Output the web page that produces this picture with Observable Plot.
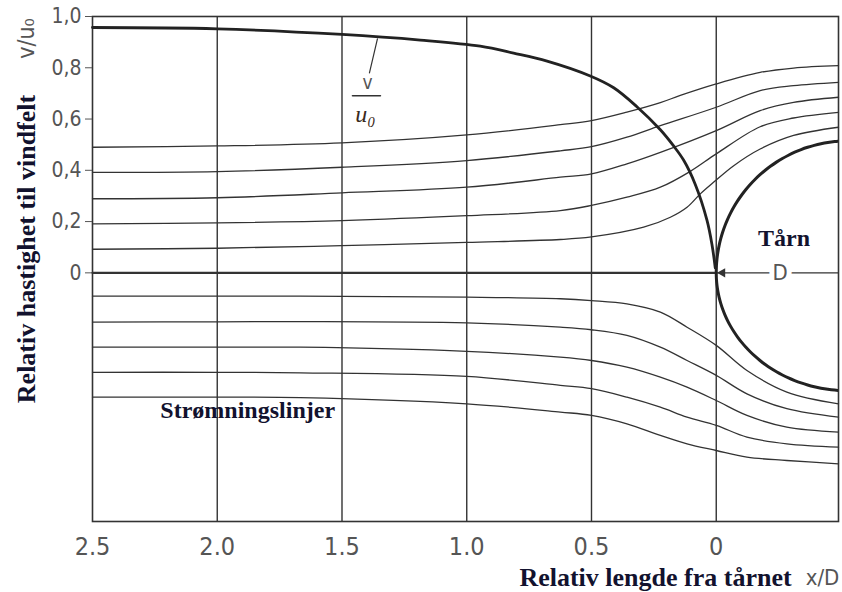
<!DOCTYPE html>
<html>
<head>
<meta charset="utf-8">
<script src="https://cdn.jsdelivr.net/npm/d3@7"></script>
<script src="https://cdn.jsdelivr.net/npm/@observablehq/plot@0.6"></script>
<style>
  html, body { margin: 0; padding: 0; background: white; }
</style>
</head>
<body>
<div id="chart"></div>
<script>
// ---- Data (x = x/D, reversed axis; y = relative value) ----
const xTicks = [2.5, 2.0, 1.5, 1.0, 0.5, 0];
const xGridLines = [2.0, 1.5, 1.0, 0.5, 0];
const yTicks = [0, 0.2, 0.4, 0.6, 0.8, 1.0];

// relative velocity v/u0 along the stagnation streamline
const velocityCurve = [[2.5,0.957],[2.0,0.952],[1.5,0.93],[1.186,0.908],[0.946,0.884],[0.812,0.857],[0.678,0.826],[0.505,0.768],[0.411,0.722],[0.318,0.648],[0.224,0.558],[0.171,0.495],[0.131,0.44],[0.084,0.345],[0.037,0.205],[0.017,0.11],[0.004,0.02]];

// streamlines above the axis
const streamUp5 = [[2.5,0.49],[2.0,0.495],[1.5,0.507],[1.0,0.538],[0.625,0.578],[0.5,0.594],[0.358,0.627],[0.224,0.664],[0.144,0.692],[0,0.737],[-0.176,0.782],[-0.31,0.799],[-0.49,0.808]];
const streamUp4 = [[2.5,0.392],[2.0,0.395],[1.5,0.412],[1.0,0.438],[0.625,0.476],[0.5,0.492],[0.358,0.529],[0.224,0.574],[0,0.646],[-0.176,0.711],[-0.31,0.730],[-0.49,0.743]];
const streamUp3 = [[2.5,0.289],[2.0,0.293],[1.5,0.312],[1.0,0.334],[0.625,0.373],[0.5,0.386],[0.358,0.425],[0.224,0.470],[0,0.555],[-0.176,0.633],[-0.31,0.665],[-0.49,0.685]];
const streamUp2 = [[2.5,0.191],[2.0,0.195],[1.5,0.204],[1.0,0.223],[0.625,0.243],[0.5,0.263],[0.358,0.295],[0.224,0.334],[0.104,0.396],[0,0.464],[-0.176,0.570],[-0.31,0.604],[-0.49,0.626]];
const streamUp1 = [[2.5,0.092],[2.0,0.096],[1.5,0.106],[1.0,0.119],[0.625,0.13],[0.5,0.14],[0.291,0.178],[0.184,0.217],[0.117,0.256],[0.064,0.308],[0.011,0.353],[-0.07,0.418],[-0.176,0.483],[-0.31,0.536],[-0.49,0.568]];

// stagnation streamline
const streamZero = [[2.5,0],[0,0]];

// streamlines below the axis
const streamDown1 = [[2.5,-0.091],[2.0,-0.091],[1.667,-0.091],[1.0,-0.095],[0.625,-0.101],[0.5,-0.108],[0.358,-0.121],[0.224,-0.153],[0.117,-0.212],[0,-0.283],[-0.123,-0.381],[-0.283,-0.465],[-0.49,-0.511]];
const streamDown2 = [[2.5,-0.192],[2.0,-0.191],[1.667,-0.19],[1.0,-0.195],[0.625,-0.212],[0.5,-0.222],[0.358,-0.244],[0.224,-0.29],[0.117,-0.342],[0,-0.4],[-0.123,-0.472],[-0.283,-0.53],[-0.49,-0.563]];
const streamDown3 = [[2.5,-0.29],[2.0,-0.29],[1.667,-0.29],[1.0,-0.306],[0.625,-0.329],[0.5,-0.342],[0.358,-0.368],[0.224,-0.407],[0.117,-0.446],[0,-0.498],[-0.123,-0.556],[-0.283,-0.602],[-0.49,-0.621]];
const streamDown4 = [[2.5,-0.388],[2.0,-0.388],[1.667,-0.39],[1.0,-0.404],[0.625,-0.439],[0.5,-0.452],[0.358,-0.485],[0.224,-0.524],[0.117,-0.563],[0,-0.595],[-0.123,-0.641],[-0.283,-0.667],[-0.49,-0.68]];
const streamDown5 = [[2.5,-0.485],[2.0,-0.485],[1.667,-0.487],[1.0,-0.511],[0.625,-0.543],[0.5,-0.556],[0.358,-0.589],[0.224,-0.634],[0.117,-0.667],[0,-0.693],[-0.123,-0.719],[-0.283,-0.732],[-0.49,-0.745]];

// tower (circle of diameter D, left edge at x/D = 0)
const towerCenter = -0.53;
const towerRadiusX = 0.53;
const towerRadiusTop = 0.515;
const towerRadiusBottom = 0.46;

// annotation anchors (data coordinates)
const fractionBar = [[1.458,0.691],[1.346,0.691]];
const fractionLeader = [[1.358,0.913],[1.39,0.78]];

// ---- Derived ----
const streamlines = [streamUp5, streamUp4, streamUp3, streamUp2, streamUp1,
                     streamDown1, streamDown2, streamDown3, streamDown4, streamDown5];
const towerArc = d3.range(90, 271, 3).map(deg => {
  const a = deg * Math.PI / 180;
  const ry = Math.sin(a) >= 0 ? towerRadiusTop : towerRadiusBottom;
  return [towerCenter - towerRadiusX * Math.cos(a), ry * Math.sin(a)];
});

const serif = "'Liberation Serif', 'Times New Roman', serif";
const narrow = "'Liberation Sans Narrow', 'DejaVu Sans Condensed', 'Roboto Condensed', sans-serif";
const ink = "#333";
const navy = "#12122e";
const gray = "#555";

const X = d => d[0], Y = d => d[1];

const chart = Plot.plot({
  width: 842,
  height: 592,
  marginLeft: 92,
  marginRight: 4,
  marginTop: 16,
  marginBottom: 71,
  x: {domain: [2.5, -0.49]},
  y: {domain: [-0.97, 1.0]},
  style: {background: "white", overflow: "visible"},
  marks: [
    Plot.ruleX(xGridLines, {stroke: ink, strokeWidth: 1.4}),
    Plot.ruleY([0], {stroke: ink, strokeWidth: 1.2}),
    Plot.frame({stroke: ink, strokeWidth: 1.6}),
    Plot.axisY({ticks: yTicks, tickSize: 7, tickPadding: 4, label: null,
      tickFormat: d => d === 0 ? "0" : d.toFixed(1).replace(".", ","),
      fontSize: 21, fontFamily: narrow, color: gray}),
    Plot.axisX({ticks: xTicks, tickSize: 0, tickPadding: 16, label: null,
      tickFormat: d => d === 0 ? "0" : d.toFixed(1),
      fontSize: 25, fontFamily: narrow, color: gray}),
    ...streamlines.map(s => Plot.line(s, {x: X, y: Y, curve: "catmull-rom", stroke: ink, strokeWidth: 1.3})),
    Plot.line(streamZero, {x: X, y: Y, stroke: ink, strokeWidth: 2.2}),
    Plot.line(velocityCurve, {x: X, y: Y, curve: "catmull-rom", stroke: "#222", strokeWidth: 2.8}),
    Plot.line(towerArc, {x: X, y: Y, curve: "catmull-rom", stroke: "#222", strokeWidth: 3, clip: true}),
    Plot.dot([[-0.025, 0]], {x: X, y: Y, symbol: "triangle", rotate: -90, r: 3.5, fill: ink, stroke: null}),
    Plot.text([[-0.256, 0]], {x: X, y: Y, text: () => "D", fontSize: 22, fontFamily: narrow,
      fill: gray, stroke: "white", strokeWidth: 10}),
    Plot.text([[-0.272, 0.134]], {x: X, y: Y, text: () => "Tårn", fontSize: 24, fontFamily: serif,
      fontWeight: "bold", fill: navy}),
    Plot.text([[2.228, -0.537]], {x: X, y: Y, text: () => "Strømningslinjer", fontSize: 24, fontFamily: serif,
      fontWeight: "bold", fill: navy, textAnchor: "start"}),
    Plot.line(fractionLeader, {x: X, y: Y, stroke: ink, strokeWidth: 1.2}),
    Plot.line(fractionBar, {x: X, y: Y, stroke: ink, strokeWidth: 1.6}),
    Plot.text([[1.398, 0.742]], {x: X, y: Y, text: () => "v", fontSize: 19, fontFamily: narrow, fill: gray}),
    Plot.text([[1.406, 0.617]], {x: X, y: Y, text: () => "u₀", fontSize: 24, fontFamily: serif,
      fontStyle: "italic", fill: "#3a2a20"}),
    Plot.text(["v/u₀"], {frameAnchor: "top-left", dx: -66, dy: 22, rotate: -90, fontSize: 23,
      textAnchor: "middle", lineAnchor: "middle", fontFamily: narrow, fill: gray}),
    Plot.text(["Relativ hastighet til vindfelt"], {frameAnchor: "left", dx: -66, dy: -20, rotate: -90,
      textAnchor: "middle", lineAnchor: "middle",
      fontSize: 26, fontFamily: serif, fontWeight: "bold", fill: navy}),
    Plot.text(["Relativ lengde fra tårnet"], {frameAnchor: "bottom", dx: 190, dy: 56,
      textAnchor: "middle", lineAnchor: "middle",
      fontSize: 26, fontFamily: serif, fontWeight: "bold", fill: navy}),
    Plot.text(["x/D"], {frameAnchor: "bottom", dx: 357, dy: 56,
      textAnchor: "middle", lineAnchor: "middle",
      fontSize: 22, fontFamily: narrow, fill: gray})
  ]
});
document.getElementById("chart").appendChild(chart);
</script>
</body>
</html>
